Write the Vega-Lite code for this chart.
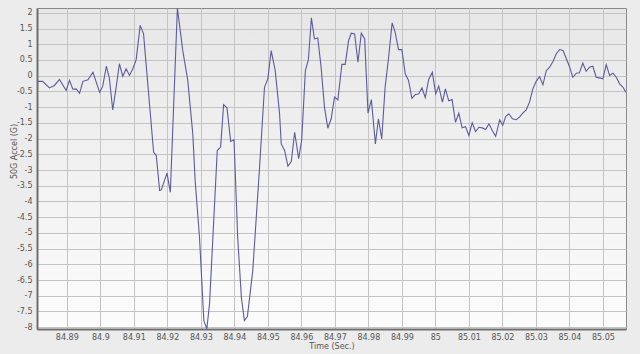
{
  "$schema": "https://vega.github.io/schema/vega-lite/v6.json",
  "width": 589,
  "height": 321,
  "autosize": {"type": "none"},
  "padding": {"left": 37, "top": 8, "right": 14, "bottom": 25},
  "background": "#ececec",
  "config": {
    "view": {
      "fill": {"gradient": "linear", "x1": 0, "y1": 0, "x2": 0, "y2": 1, "stops": [{"offset": 0, "color": "#e7e7e7"}, {"offset": 1, "color": "#fcfcfc"}]},
      "stroke": "#8a8a8a",
      "strokeWidth": 1
    },
    "axis": {
      "labelFont": "DejaVu Sans",
      "labelFontSize": 8,
      "labelColor": "#555555",
      "titleFont": "DejaVu Sans",
      "titleFontSize": 8,
      "titleFontWeight": "normal",
      "titleColor": "#555555",
      "gridColor": "#c4c4c4",
      "gridWidth": 1,
      "gridOpacity": 1,
      "ticks": false,
      "domainColor": "#6e6e6e",
      "domainWidth": 2
    }
  },
  "data": {
    "values": [
      {"t": 84.8813, "g": -0.18}, {"t": 84.8828, "g": -0.18}, {"t": 84.8848, "g": -0.39}, {"t": 84.8863, "g": -0.31},
      {"t": 84.8878, "g": -0.12}, {"t": 84.8898, "g": -0.47}, {"t": 84.8908, "g": -0.15}, {"t": 84.8918, "g": -0.43},
      {"t": 84.8928, "g": -0.42}, {"t": 84.8938, "g": -0.56}, {"t": 84.8948, "g": -0.18}, {"t": 84.8963, "g": -0.13},
      {"t": 84.8978, "g": 0.11}, {"t": 84.8998, "g": -0.53}, {"t": 84.9007, "g": -0.34}, {"t": 84.9018, "g": 0.30},
      {"t": 84.9027, "g": -0.08}, {"t": 84.9037, "g": -1.09}, {"t": 84.9047, "g": -0.39}, {"t": 84.9057, "g": 0.38},
      {"t": 84.9067, "g": -0.02}, {"t": 84.9077, "g": 0.22}, {"t": 84.9087, "g": 0.01}, {"t": 84.9097, "g": 0.22},
      {"t": 84.9107, "g": 0.51}, {"t": 84.9119, "g": 1.60}, {"t": 84.9129, "g": 1.33}, {"t": 84.9159, "g": -2.43},
      {"t": 84.9167, "g": -2.54}, {"t": 84.9177, "g": -3.65}, {"t": 84.9182, "g": -3.63}, {"t": 84.9199, "g": -3.10},
      {"t": 84.9209, "g": -3.71}, {"t": 84.9230, "g": 2.15}, {"t": 84.9246, "g": 0.80}, {"t": 84.9261, "g": -0.15},
      {"t": 84.9276, "g": -1.85}, {"t": 84.9283, "g": -3.33}, {"t": 84.9296, "g": -5.14}, {"t": 84.9309, "g": -7.79},
      {"t": 84.9318, "g": -8.05}, {"t": 84.9326, "g": -7.25}, {"t": 84.9336, "g": -5.14}, {"t": 84.9349, "g": -2.38},
      {"t": 84.9359, "g": -2.27}, {"t": 84.9368, "g": -0.92}, {"t": 84.9378, "g": -1.02}, {"t": 84.9389, "g": -2.09},
      {"t": 84.9399, "g": -2.04}, {"t": 84.9410, "g": -5.14}, {"t": 84.9421, "g": -7.05}, {"t": 84.9430, "g": -7.79},
      {"t": 84.9439, "g": -7.66}, {"t": 84.9455, "g": -6.20}, {"t": 84.9475, "g": -2.96}, {"t": 84.9490, "g": -0.37},
      {"t": 84.9500, "g": -0.10}, {"t": 84.9510, "g": 0.80}, {"t": 84.9522, "g": 0.16}, {"t": 84.9535, "g": -1.21},
      {"t": 84.9540, "g": -2.17}, {"t": 84.9550, "g": -2.38}, {"t": 84.9560, "g": -2.88}, {"t": 84.9570, "g": -2.73},
      {"t": 84.9580, "g": -1.80}, {"t": 84.9592, "g": -2.64}, {"t": 84.9601, "g": -2.06}, {"t": 84.9612, "g": 0.16},
      {"t": 84.9621, "g": 0.51}, {"t": 84.9630, "g": 1.84}, {"t": 84.9639, "g": 1.17}, {"t": 84.9649, "g": 1.20},
      {"t": 84.9659, "g": 0.27}, {"t": 84.9669, "g": -1.00}, {"t": 84.9679, "g": -1.67}, {"t": 84.9689, "g": -1.37},
      {"t": 84.9699, "g": -0.68}, {"t": 84.9709, "g": -0.77}, {"t": 84.9721, "g": 0.36}, {"t": 84.9731, "g": 0.36},
      {"t": 84.9741, "g": 1.12}, {"t": 84.9749, "g": 1.35}, {"t": 84.9759, "g": 1.33}, {"t": 84.9769, "g": 0.43},
      {"t": 84.9779, "g": 1.35}, {"t": 84.9789, "g": 1.17}, {"t": 84.9799, "g": -1.19}, {"t": 84.9809, "g": -0.76},
      {"t": 84.9821, "g": -2.17}, {"t": 84.9830, "g": -1.37}, {"t": 84.9840, "g": -2.01}, {"t": 84.9850, "g": -0.37},
      {"t": 84.9860, "g": 0.54}, {"t": 84.9871, "g": 1.68}, {"t": 84.9880, "g": 1.38}, {"t": 84.9890, "g": 0.83},
      {"t": 84.9900, "g": 0.83}, {"t": 84.9910, "g": 0.06}, {"t": 84.9920, "g": -0.15}, {"t": 84.9930, "g": -0.72},
      {"t": 84.9940, "g": -0.60}, {"t": 84.9950, "g": -0.58}, {"t": 84.9960, "g": -0.39}, {"t": 84.9970, "g": -0.70},
      {"t": 84.9980, "g": -0.12}, {"t": 84.9991, "g": 0.11}, {"t": 85.0001, "g": -0.58}, {"t": 85.0010, "g": -0.33},
      {"t": 85.0021, "g": -0.84}, {"t": 85.0030, "g": -0.42}, {"t": 85.0040, "g": -0.80}, {"t": 85.0050, "g": -0.76},
      {"t": 85.0060, "g": -1.48}, {"t": 85.0070, "g": -1.19}, {"t": 85.0080, "g": -1.66}, {"t": 85.0090, "g": -1.62},
      {"t": 85.0100, "g": -1.90}, {"t": 85.0110, "g": -1.50}, {"t": 85.0120, "g": -1.78}, {"t": 85.0130, "g": -1.64},
      {"t": 85.0140, "g": -1.66}, {"t": 85.0150, "g": -1.71}, {"t": 85.0160, "g": -1.53}, {"t": 85.0170, "g": -1.74},
      {"t": 85.0180, "g": -1.93}, {"t": 85.0192, "g": -1.40}, {"t": 85.0201, "g": -1.58}, {"t": 85.0210, "g": -1.30},
      {"t": 85.0219, "g": -1.21}, {"t": 85.0230, "g": -1.37}, {"t": 85.0241, "g": -1.40}, {"t": 85.0251, "g": -1.32},
      {"t": 85.0261, "g": -1.19}, {"t": 85.0271, "g": -1.09}, {"t": 85.0281, "g": -0.84}, {"t": 85.0291, "g": -0.42},
      {"t": 85.0301, "g": -0.18}, {"t": 85.0311, "g": -0.03}, {"t": 85.0321, "g": -0.29}, {"t": 85.0331, "g": 0.16},
      {"t": 85.0341, "g": 0.27}, {"t": 85.0351, "g": 0.45}, {"t": 85.0361, "g": 0.70}, {"t": 85.0371, "g": 0.83},
      {"t": 85.0381, "g": 0.80}, {"t": 85.0391, "g": 0.54}, {"t": 85.0401, "g": 0.27}, {"t": 85.0410, "g": -0.05},
      {"t": 85.0421, "g": 0.08}, {"t": 85.0430, "g": 0.09}, {"t": 85.0440, "g": 0.40}, {"t": 85.0450, "g": 0.14},
      {"t": 85.0460, "g": 0.27}, {"t": 85.0470, "g": 0.30}, {"t": 85.0480, "g": -0.05}, {"t": 85.0490, "g": -0.07},
      {"t": 85.0500, "g": -0.10}, {"t": 85.0510, "g": 0.35}, {"t": 85.0520, "g": 0.01}, {"t": 85.0530, "g": 0.08},
      {"t": 85.0540, "g": -0.05}, {"t": 85.0550, "g": -0.26}, {"t": 85.0560, "g": -0.37}, {"t": 85.0569, "g": -0.53}
    ]
  },
  "mark": {"type": "line", "color": "#5b5b9e", "strokeWidth": 1.1, "clip": true},
  "encoding": {
    "x": {
      "field": "t",
      "type": "quantitative",
      "scale": {"domain": [84.8811, 85.0569], "nice": false, "zero": false},
      "axis": {
        "title": "Time (Sec.)",
        "values": [84.89, 84.9, 84.91, 84.92, 84.93, 84.94, 84.95, 84.96, 84.97, 84.98, 84.99, 85, 85.01, 85.02, 85.03, 85.04, 85.05],
        "format": ".2~f",
        "labelPadding": 4,
        "titlePadding": 1,
        "domain": true
      }
    },
    "y": {
      "field": "g",
      "type": "quantitative",
      "scale": {"domain": [-8.057, 2.153], "nice": false, "zero": false},
      "axis": {
        "title": "50G Accel (G)",
        "values": [-8, -7.5, -7, -6.5, -6, -5.5, -5, -4.5, -4, -3.5, -3, -2.5, -2, -1.5, -1, -0.5, 0, 0.5, 1, 1.5, 2],
        "labelExpr": "datum.value < 0 ? '-' + format(-datum.value, '~g') : format(datum.value, '~g')",
        "labelPadding": 5,
        "titleX": -23,
        "titleY": 143,
        "titleAngle": -90,
        "titleBaseline": "middle",
        "titleAlign": "center"
      }
    }
  }
}
